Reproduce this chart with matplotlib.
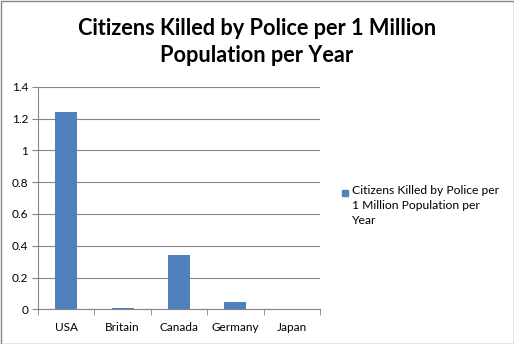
import matplotlib.pyplot as plt
from matplotlib.patches import Rectangle

countries = ["USA", "Britain", "Canada", "Germany", "Japan"]
killed = [1.24, 0.006, 0.34, 0.047, 0.0]
yticks = [0, 0.2, 0.4, 0.6, 0.8, 1, 1.2, 1.4]
title = "Citizens Killed by Police per 1 Million\nPopulation per Year"
series_name = "Citizens Killed by Police per\n1 Million Population per\nYear"
bar_color = "#4F81BD"

plt.rcParams['font.family'] = ['Lato', 'DejaVu Sans']

fig = plt.figure(figsize=(5.14, 3.44), dpi=100)
ax = fig.add_axes([38 / 514, 1 - 309.3 / 344, (320 - 38) / 514, (309.3 - 86.7) / 344])

x = range(len(countries))
ax.bar(x, killed, width=0.39, color=bar_color, zorder=3)
ax.set_xlim(-0.5, len(countries) - 0.5)
ax.set_ylim(0, 1.4)
ax.set_yticks(yticks)
ax.set_yticklabels(["0", "0.2", "0.4", "0.6", "0.8", "1", "1.2", "1.4"], fontsize=8.5)
ax.set_xticks(list(x))
ax.set_xticklabels(countries, fontsize=8.5)
ax.tick_params(axis="x", length=0, pad=9)
ax.tick_params(axis="y", length=4, direction="out", color="#868686", pad=3)
# category boundary ticks
ax.set_xticks([i - 0.5 for i in range(len(countries) + 1)], minor=True)
ax.tick_params(axis="x", which="minor", length=4, direction="out", color="#868686")
ax.grid(axis="y", color="#868686", linewidth=0.8, zorder=0)
for s in ["top", "right"]:
    ax.spines[s].set_visible(False)
for s in ["left", "bottom"]:
    ax.spines[s].set_color("#868686")

fig.text(257 / 514, 1 - 42 / 344, title, ha="center", va="center",
         fontsize=15.7, fontweight="bold", linespacing=1.4)

# legend: swatch aligned with first text line
fig.add_artist(Rectangle((341.5 / 514, 1 - 196 / 344), 6.5 / 514, 6.5 / 344,
                         transform=fig.transFigure, color=bar_color))
fig.text(352 / 514, 1 - 185 / 344, series_name, ha="left", va="top",
         fontsize=8.7, linespacing=1.45)

fig.add_artist(Rectangle((0.5 / 514, 0.5 / 344), 1 - 1 / 514, 1 - 1 / 344,
                         transform=fig.transFigure, fill=False,
                         edgecolor="#868686", linewidth=1))

fig.savefig("out.png", dpi=100)
